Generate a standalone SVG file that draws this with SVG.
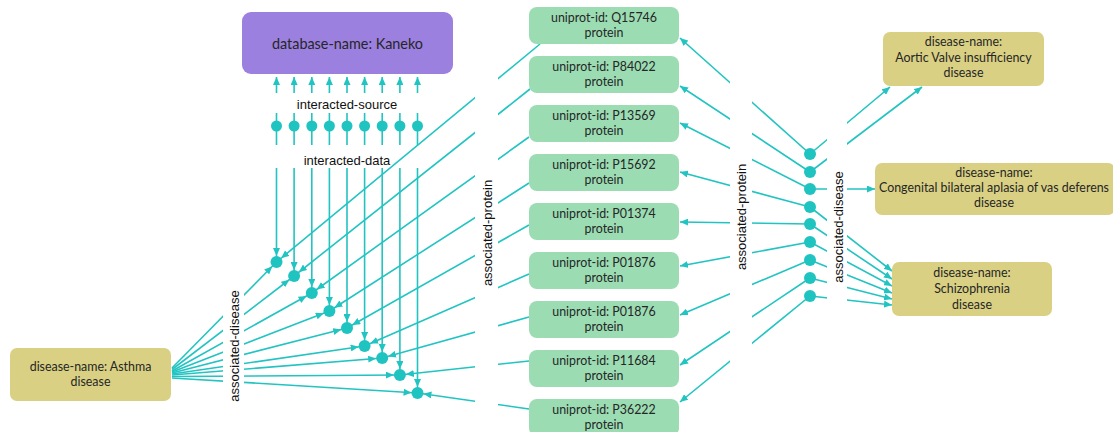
<svg xmlns="http://www.w3.org/2000/svg" width="1113" height="432" viewBox="0 0 1113 432">
<style>
.e{fill:none;stroke:#22c4c2;stroke-width:1.6}
.a{marker-end:url(#ah)}
.d{marker-end:url(#ahd)}
.dot{fill:#1fc4c1}
.lbl{font-family:"Liberation Sans",Arial,sans-serif;font-size:13px;fill:#111111;text-anchor:middle;dominant-baseline:central}
.nt{font-family:Lato,"Open Sans",sans-serif;font-size:12.4px;fill:#262626;text-anchor:middle}
.dis{fill:#d9d083}
.pro{fill:#9bdcb3}
.db{fill:#9b80df}
.mask{fill:#ffffff}
</style>
<defs>
<marker id="ah" viewBox="0 0 8 7" refX="8" refY="3.5" markerWidth="8" markerHeight="7" orient="auto" markerUnits="userSpaceOnUse"><path d="M0,0 L8,3.5 L0,7 z" fill="#22c4c2"/></marker>
<marker id="ahd" viewBox="0 0 14 7" refX="14" refY="3.5" markerWidth="14" markerHeight="7" orient="auto" markerUnits="userSpaceOnUse"><path d="M0,0 L8,3.5 L0,7 z" fill="#22c4c2"/></marker>
</defs>

<g id="connectors">
<!-- interacted-source: top dots to database -->
<path class="e a" d="M276.5,126 V113 M276.5,93 V77"/>
<path class="e a" d="M294.1,126 V113 M294.1,93 V77"/>
<path class="e a" d="M311.8,126 V113 M311.8,93 V77"/>
<path class="e a" d="M329.4,126 V113 M329.4,93 V77"/>
<path class="e a" d="M347,126 V113 M347,93 V77"/>
<path class="e a" d="M364.6,126 V113 M364.6,93 V77"/>
<path class="e a" d="M382.2,126 V113 M382.2,93 V77"/>
<path class="e a" d="M399.9,126 V113 M399.9,93 V77"/>
<path class="e a" d="M417.5,126 V113 M417.5,93 V77"/>
<!-- interacted-data: top dots down to hubs -->
<path class="e d" d="M276.5,126 V145 M276.5,168 V262"/>
<path class="e d" d="M294.1,126 V145 M294.1,168 V276"/>
<path class="e d" d="M311.8,126 V145 M311.8,168 V293"/>
<path class="e d" d="M329.4,126 V145 M329.4,168 V311"/>
<path class="e d" d="M347,126 V145 M347,168 V328"/>
<path class="e d" d="M364.6,126 V145 M364.6,168 V346"/>
<path class="e d" d="M382.2,126 V145 M382.2,168 V358"/>
<path class="e d" d="M399.9,126 V145 M399.9,168 V375"/>
<path class="e d" d="M417.5,126 V145 M417.5,168 V393"/>
<!-- associated-disease: Asthma to hubs -->
<path class="e d" d="M172,368 L276.5,262"/>
<path class="e d" d="M172,369.5 L294.1,276"/>
<path class="e d" d="M172,371 L311.8,293"/>
<path class="e d" d="M172,372 L329.4,311"/>
<path class="e d" d="M172,373 L347,328"/>
<path class="e d" d="M172,374 L364.6,346"/>
<path class="e d" d="M172,375 L382.2,358"/>
<path class="e d" d="M172,376.5 L399.9,375"/>
<path class="e d" d="M172,378 L417.5,393"/>
<!-- associated-protein: proteins to left hubs -->
<path class="e d" d="M540,44 L276.5,262"/>
<path class="e d" d="M530,89 L294.1,276"/>
<path class="e d" d="M529,137 L311.8,293"/>
<path class="e d" d="M529,183 L329.4,311"/>
<path class="e d" d="M529,225 L347,328"/>
<path class="e d" d="M529,274 L364.6,346"/>
<path class="e d" d="M529,317 L382.2,358"/>
<path class="e d" d="M529,361 L399.9,375"/>
<path class="e d" d="M529,409 L417.5,393"/>
<!-- associated-protein: right hubs to proteins -->
<path class="e a" d="M810,154 L680,38"/>
<path class="e a" d="M810,172 L680,86"/>
<path class="e a" d="M810,189 L680,123"/>
<path class="e a" d="M810,207 L680,172"/>
<path class="e a" d="M810,224 L680,222"/>
<path class="e a" d="M810,242 L680,266"/>
<path class="e a" d="M810,260 L680,315"/>
<path class="e a" d="M810,278 L680,365"/>
<path class="e a" d="M810,296 L680,402"/>
<!-- associated-disease: right hubs to diseases -->
<path class="e a" d="M810,154 L890,87"/>
<path class="e a" d="M810,172 L922,87"/>
<path class="e a" d="M810,189 L875,189"/>
<path class="e a" d="M810,207 L892,271"/>
<path class="e a" d="M810,224 L892,279"/>
<path class="e a" d="M810,242 L892,286"/>
<path class="e a" d="M810,260 L892,293"/>
<path class="e a" d="M810,278 L892,299"/>
<path class="e a" d="M810,296 L892,305"/>
<!-- label backgrounds -->
<rect class="mask" x="223" y="283" width="21" height="124"/>
<rect class="mask" x="475" y="70" width="23" height="345"/>
<rect class="mask" x="730" y="55" width="22" height="355"/>
<rect class="mask" x="827" y="110" width="20" height="205"/>
<!-- edge labels -->
<text class="lbl" x="347" y="104">interacted-source</text>
<text class="lbl" x="347" y="160">interacted-data</text>
<text class="lbl" transform="translate(234,346) rotate(-90)">associated-disease</text>
<text class="lbl" transform="translate(487,233) rotate(-90)">associated-protein</text>
<text class="lbl" transform="translate(741,217) rotate(-90)">associated-protein</text>
<text class="lbl" transform="translate(838,227) rotate(-90)">associated-disease</text>
</g>

<g id="database-kaneko"><rect class="db" x="242" y="12" width="211" height="62" rx="9"/><text class="nt" x="347.5" y="49" style="font-size:14.4px">database-name: Kaneko</text></g>

<g id="disease-asthma"><rect class="dis" x="10" y="348" width="161" height="53" rx="7"/><text class="nt" x="90.5" y="371">disease-name: Asthma</text><text class="nt" x="90.5" y="386">disease</text></g>
<g id="disease-aortic"><rect class="dis" x="883" y="32" width="161" height="54" rx="7"/><text class="nt" x="963.5" y="46">disease-name:</text><text class="nt" x="963.5" y="62">Aortic Valve insufficiency</text><text class="nt" x="963.5" y="77">disease</text></g>
<g id="disease-congenital"><rect class="dis" x="875" y="163" width="240" height="52" rx="7"/><text class="nt" x="994" y="177">disease-name:</text><text class="nt" x="994" y="192">Congenital bilateral aplasia of vas deferens</text><text class="nt" x="994" y="207">disease</text></g>
<g id="disease-schizophrenia"><rect class="dis" x="892" y="262" width="160" height="54" rx="7"/><text class="nt" x="972" y="277">disease-name:</text><text class="nt" x="972" y="293">Schizophrenia</text><text class="nt" x="972" y="309">disease</text></g>

<g id="protein-Q15746"><rect class="pro" x="529" y="7" width="150" height="37" rx="8"/><text class="nt" x="604" y="22">uniprot-id: Q15746</text><text class="nt" x="604" y="37">protein</text></g>
<g id="protein-P84022"><rect class="pro" x="529" y="56" width="150" height="37" rx="8"/><text class="nt" x="604" y="71">uniprot-id: P84022</text><text class="nt" x="604" y="86">protein</text></g>
<g id="protein-P13569"><rect class="pro" x="529" y="105" width="150" height="37" rx="8"/><text class="nt" x="604" y="120">uniprot-id: P13569</text><text class="nt" x="604" y="135">protein</text></g>
<g id="protein-P15692"><rect class="pro" x="529" y="154" width="150" height="37" rx="8"/><text class="nt" x="604" y="169">uniprot-id: P15692</text><text class="nt" x="604" y="184">protein</text></g>
<g id="protein-P01374"><rect class="pro" x="529" y="203" width="150" height="37" rx="8"/><text class="nt" x="604" y="218">uniprot-id: P01374</text><text class="nt" x="604" y="233">protein</text></g>
<g id="protein-P01876-a"><rect class="pro" x="529" y="252" width="150" height="37" rx="8"/><text class="nt" x="604" y="267">uniprot-id: P01876</text><text class="nt" x="604" y="282">protein</text></g>
<g id="protein-P01876-b"><rect class="pro" x="529" y="301" width="150" height="37" rx="8"/><text class="nt" x="604" y="316">uniprot-id: P01876</text><text class="nt" x="604" y="331">protein</text></g>
<g id="protein-P11684"><rect class="pro" x="529" y="350" width="150" height="37" rx="8"/><text class="nt" x="604" y="365">uniprot-id: P11684</text><text class="nt" x="604" y="380">protein</text></g>
<g id="protein-P36222"><rect class="pro" x="529" y="399" width="150" height="37" rx="8"/><text class="nt" x="604" y="414">uniprot-id: P36222</text><text class="nt" x="604" y="429">protein</text></g>

<g id="interacted-relations">
<circle class="dot" cx="276.5" cy="126" r="5.5"/><circle class="dot" cx="294.1" cy="126" r="5.5"/><circle class="dot" cx="311.8" cy="126" r="5.5"/><circle class="dot" cx="329.4" cy="126" r="5.5"/><circle class="dot" cx="347" cy="126" r="5.5"/><circle class="dot" cx="364.6" cy="126" r="5.5"/><circle class="dot" cx="382.2" cy="126" r="5.5"/><circle class="dot" cx="399.9" cy="126" r="5.5"/><circle class="dot" cx="417.5" cy="126" r="5.5"/>
</g>
<g id="left-relations">
<circle class="dot" cx="276.5" cy="262" r="6"/><circle class="dot" cx="294.1" cy="276" r="6"/><circle class="dot" cx="311.8" cy="293" r="6"/><circle class="dot" cx="329.4" cy="311" r="6"/><circle class="dot" cx="347" cy="328" r="6"/><circle class="dot" cx="364.6" cy="346" r="6"/><circle class="dot" cx="382.2" cy="358" r="6"/><circle class="dot" cx="399.9" cy="375" r="6"/><circle class="dot" cx="417.5" cy="393" r="6"/>
</g>
<g id="right-relations">
<circle class="dot" cx="810" cy="154" r="6"/><circle class="dot" cx="810" cy="172" r="6"/><circle class="dot" cx="810" cy="189" r="6"/><circle class="dot" cx="810" cy="207" r="6"/><circle class="dot" cx="810" cy="224" r="6"/><circle class="dot" cx="810" cy="242" r="6"/><circle class="dot" cx="810" cy="260" r="6"/><circle class="dot" cx="810" cy="278" r="6"/><circle class="dot" cx="810" cy="296" r="6"/>
</g>
</svg>
